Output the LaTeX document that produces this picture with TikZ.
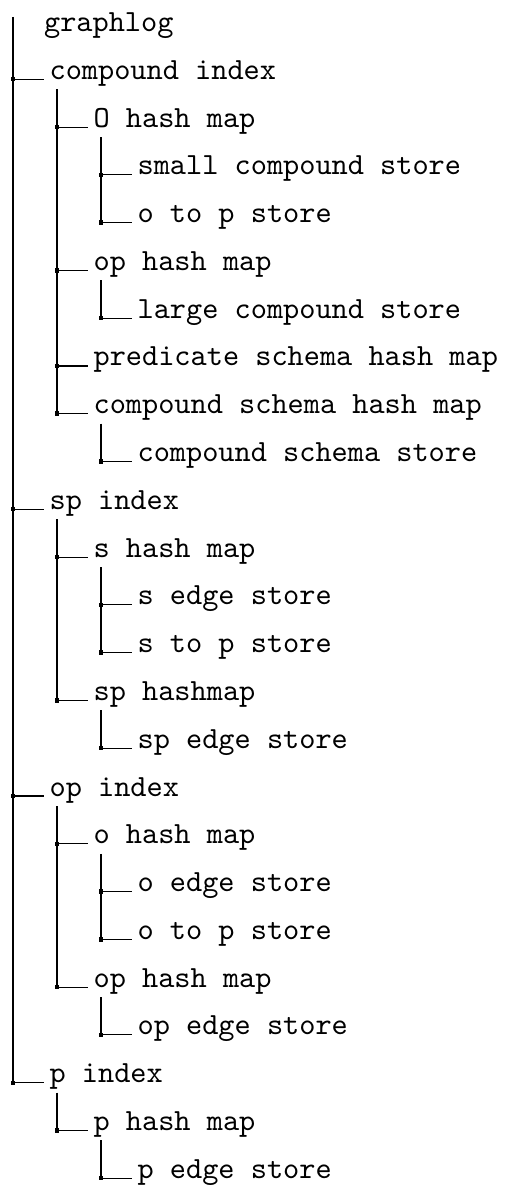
\documentclass[tikz,border=0pt]{standalone}
\usetikzlibrary{calc}

\begin{document}
\begin{tikzpicture}[
  x=0.3246pt, y=-0.3246pt,
  entry/.style={anchor=base west,inner sep=0pt,font=\ttfamily},
  trunk/.style={draw=black,line width=0.35pt},
  branch/.style={draw=black,line width=0.35pt},
  knot/.style={fill=black},
]
  \useasboundingbox (0,0) rectangle (504,1185);
  % entries, one per row
  \node[entry] (root)    at (43.5,31.5)  {graphlog};
  \node[entry] (cidx)    at (49,79.3)    {compound index};
  \node[entry] (cOhm)    at (93,127.1)   {O hash map};
  \node[entry] (csmall)  at (137,174.8)  {small compound store};
  \node[entry] (cotop)   at (137,222.6)  {o to p store};
  \node[entry] (cophm)   at (93,270.4)   {op hash map};
  \node[entry] (clarge)  at (137,318.2)  {large compound store};
  \node[entry] (cpshm)   at (93,366.0)   {predicate schema hash map};
  \node[entry] (ccshm)   at (93,413.7)   {compound schema hash map};
  \node[entry] (ccss)    at (137,461.5)  {compound schema store};
  \node[entry] (spidx)   at (49,509.3)   {sp index};
  \node[entry] (sshm)    at (93,557.1)   {s hash map};
  \node[entry] (sedge)   at (137,604.9)  {s edge store};
  \node[entry] (stop)    at (137,652.6)  {s to p store};
  \node[entry] (sphm)    at (93,700.4)   {sp hashmap};
  \node[entry] (spedge)  at (137,748.2)  {sp edge store};
  \node[entry] (opidx)   at (49,796.0)   {op index};
  \node[entry] (ohm)     at (93,843.8)   {o hash map};
  \node[entry] (oedge)   at (137,891.5)  {o edge store};
  \node[entry] (otop)    at (137,939.3)  {o to p store};
  \node[entry] (ophm)    at (93,987.1)   {op hash map};
  \node[entry] (opedge)  at (137,1034.9) {op edge store};
  \node[entry] (pidx)    at (49,1082.7)  {p index};
  \node[entry] (phm)     at (93,1130.4)  {p hash map};
  \node[entry] (pedge)   at (137,1178.2) {p edge store};
  % main trunk
  \draw[trunk] ($(root.base west)+(-30.5,-14.5)$) |- ($(pidx.base west)+(-36,0)$);
  % sub trunks
  \foreach \p/\q in {cidx/ccshm,cOhm/cotop,cophm/clarge,ccshm/ccss,
                     spidx/sphm,sshm/stop,sphm/spedge,
                     opidx/ophm,ohm/otop,ophm/opedge,
                     pidx/phm,phm/pedge}
    \draw[trunk] ($(\p.base west)+(8,10)$) |- ($(\q.base west)+(-36,0)$);
  % branches with knots
  \foreach \n in {cidx,cOhm,csmall,cotop,cophm,clarge,cpshm,ccshm,ccss,
                  spidx,sshm,sedge,stop,sphm,spedge,
                  opidx,ohm,oedge,otop,ophm,opedge,
                  pidx,phm,pedge}{
    \draw[branch] ($(\n.base west)+(-36,0)$) -- ($(\n.base west)+(-5,0)$);
    \fill[knot] ($(\n.base west)+(-38.2,-2.2)$) rectangle +(4.4,4.4);
  }
\end{tikzpicture}
\end{document}
